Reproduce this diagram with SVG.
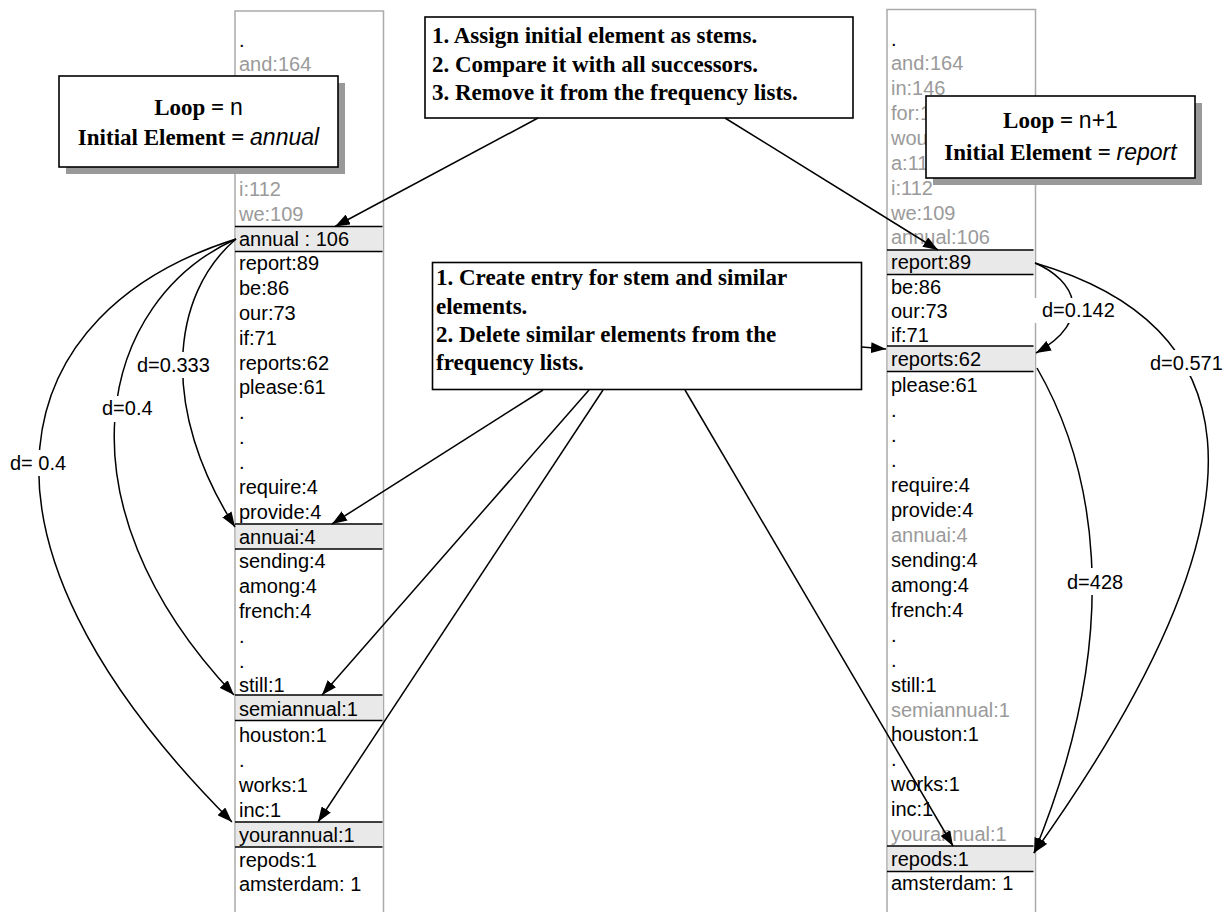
<svg xmlns="http://www.w3.org/2000/svg" width="1227" height="912" viewBox="0 0 1227 912">
<defs>
<marker id="ah" markerUnits="userSpaceOnUse" markerWidth="15" markerHeight="11" refX="15" refY="5.5" orient="auto">
<path d="M0,0 L15,5.5 L0,11 z" fill="#000"/>
</marker>
<style>
.col{fill:#fff;stroke:#aaa;stroke-width:1.5}
.t{font-family:"Liberation Sans",Arial,sans-serif;font-size:20px;fill:#000}
.g{fill:#9a9a9a}
.band{fill:#e9e9e9;stroke:none}
.bl{stroke:#000;stroke-width:1.6}
.box{fill:#fff;stroke:#000;stroke-width:1.6}
.sh{fill:#999;stroke:none}
.bt{font-family:"Liberation Serif","Times New Roman",serif;font-weight:bold;font-size:23px;fill:#000}
.ar{font-family:"Liberation Sans",Arial,sans-serif;font-weight:normal}
.c{fill:none;stroke:#000;stroke-width:1.5;marker-end:url(#ah)}
.lb{font-family:"Liberation Sans",Arial,sans-serif;font-size:20px;fill:#000}
</style>
</defs>
<rect width="1227" height="912" fill="#fff"/>

<g id="col-left">
<rect class="col" x="235" y="11" width="148.5" height="910"/>
<rect class="band" x="235.8" y="226.5" width="147" height="25"/>
<rect class="band" x="235.8" y="524" width="147" height="25"/>
<rect class="band" x="235.8" y="695" width="147" height="25.5"/>
<rect class="band" x="235.8" y="822" width="147" height="25"/>
<g class="bl">
<line x1="235" y1="226.5" x2="382.5" y2="226.5"/><line x1="235" y1="251.5" x2="382.5" y2="251.5"/>
<line x1="235" y1="524" x2="382.5" y2="524"/><line x1="235" y1="549" x2="382.5" y2="549"/>
<line x1="235" y1="695" x2="382.5" y2="695"/><line x1="235" y1="720.5" x2="382.5" y2="720.5"/>
<line x1="235" y1="822" x2="382.5" y2="822"/><line x1="235" y1="847" x2="382.5" y2="847"/>
</g>
<g class="t">
<text x="239" y="46.5">.</text>
<text x="239" y="71.4" class="g">and:164</text>
<text x="239" y="195.6" class="g">i:112</text>
<text x="239" y="220.5" class="g">we:109</text>
<text x="239" y="246">annual : 106</text>
<text x="239" y="270.2">report:89</text>
<text x="239" y="295">be:86</text>
<text x="239" y="319.9">our:73</text>
<text x="239" y="344.7">if:71</text>
<text x="239" y="369.6">reports:62</text>
<text x="239" y="394.4">please:61</text>
<text x="239" y="419.3">.</text>
<text x="239" y="444.1">.</text>
<text x="239" y="469">.</text>
<text x="239" y="493.8">require:4</text>
<text x="239" y="518.7">provide:4</text>
<text x="239" y="544">annuai:4</text>
<text x="239" y="568.4">sending:4</text>
<text x="239" y="593.2">among:4</text>
<text x="239" y="618.1">french:4</text>
<text x="239" y="642.9">.</text>
<text x="239" y="667.8">.</text>
<text x="239" y="692">still:1</text>
<text x="239" y="715.5">semiannual:1</text>
<text x="239" y="742.3">houston:1</text>
<text x="239" y="767.2">.</text>
<text x="239" y="792">works:1</text>
<text x="239" y="816.9">inc:1</text>
<text x="239" y="842">yourannual:1</text>
<text x="239" y="866.6">repods:1</text>
<text x="239" y="891">amsterdam: 1</text>
</g>
</g>

<g id="col-right">
<rect class="col" x="887" y="9.5" width="148.5" height="910"/>
<rect class="band" x="887.8" y="250" width="147" height="24.5"/>
<rect class="band" x="887.8" y="346" width="147" height="25.5"/>
<rect class="band" x="887.8" y="846" width="147" height="25.5"/>
<g class="bl">
<line x1="887" y1="250" x2="1033.5" y2="250"/><line x1="887" y1="274.5" x2="1033.5" y2="274.5"/>
<line x1="887" y1="346" x2="1033.5" y2="346"/><line x1="887" y1="371.5" x2="1033.5" y2="371.5"/>
<line x1="887" y1="846" x2="1033.5" y2="846"/><line x1="887" y1="871.5" x2="1033.5" y2="871.5"/>
</g>
<g class="t">
<text x="891" y="45.5">.</text>
<text x="891" y="70.4" class="g">and:164</text>
<text x="891" y="95.2" class="g">in:146</text>
<text x="891" y="120" class="g">for:1</text>
<text x="891" y="144.9" class="g">wou</text>
<text x="891" y="169.8" class="g">a:11</text>
<text x="891" y="194.6" class="g">i:112</text>
<text x="891" y="219.5" class="g">we:109</text>
<text x="891" y="244.3" class="g">annual:106</text>
<text x="891" y="269">report:89</text>
<text x="891" y="293.5">be:86</text>
<text x="891" y="317.9">our:73</text>
<text x="891" y="342">if:71</text>
<text x="891" y="366">reports:62</text>
<text x="891" y="392">please:61</text>
<text x="891" y="417.3">.</text>
<text x="891" y="442.3">.</text>
<text x="891" y="467.3">.</text>
<text x="891" y="492.3">require:4</text>
<text x="891" y="517.2">provide:4</text>
<text x="891" y="542.2" class="g">annuai:4</text>
<text x="891" y="567.2">sending:4</text>
<text x="891" y="592">among:4</text>
<text x="891" y="617">french:4</text>
<text x="891" y="641.9">.</text>
<text x="891" y="666.8">.</text>
<text x="891" y="691.6">still:1</text>
<text x="891" y="716.5" class="g">semiannual:1</text>
<text x="891" y="741.3">houston:1</text>
<text x="891" y="766.2">.</text>
<text x="891" y="791">works:1</text>
<text x="891" y="815.9">inc:1</text>
<text x="891" y="840.7" class="g">yourannual:1</text>
<text x="891" y="866">repods:1</text>
<text x="891" y="890.4">amsterdam: 1</text>
</g>
</g>

<g id="box-loop-n">
<rect class="sh" x="66" y="83" width="279" height="91"/>
<rect class="box" x="59" y="76" width="279" height="91"/>
<text class="bt" x="198.5" y="115" text-anchor="middle">Loop = <tspan class="ar">n</tspan></text>
<text class="bt" x="198.5" y="145" text-anchor="middle">Initial Element = <tspan class="ar" font-style="italic">annual</tspan></text>
</g>

<g id="box-loop-n1">
<rect class="sh" x="933" y="103" width="269" height="82"/>
<rect class="box" x="926" y="96" width="269" height="82"/>
<text class="bt" x="1060.5" y="128" text-anchor="middle">Loop = <tspan class="ar">n+1</tspan></text>
<text class="bt" x="1060.5" y="160" text-anchor="middle">Initial Element = <tspan class="ar" font-style="italic">report</tspan></text>
</g>

<g id="box-steps-1">
<rect class="box" x="425" y="17" width="428" height="101"/>
<text class="bt" x="432" y="43">1. Assign initial element as stems.</text>
<text class="bt" x="432" y="71.5">2. Compare it with all successors.</text>
<text class="bt" x="432" y="100">3. Remove it from the frequency lists.</text>
</g>

<g id="box-steps-2">
<rect class="box" x="432.5" y="262.5" width="429" height="127"/>
<text class="bt" x="436" y="285">1. Create entry for stem and similar</text>
<text class="bt" x="436" y="313.5">elements.</text>
<text class="bt" x="436" y="342">2. Delete similar elements from the</text>
<text class="bt" x="436" y="370">frequency lists.</text>
</g>

<g id="connectors">
<path class="c" d="M538,118 L335,226.5"/>
<path class="c" d="M725,118 L938,250"/>
<path class="c" d="M862,347 L886,349"/>
<path class="c" d="M543,390 L332,524"/>
<path class="c" d="M589,390 L322,695"/>
<path class="c" d="M603,390 L318,822"/>
<path class="c" d="M685,390 L953,846"/>
<path class="c" d="M236,239 C170,295 160,410 235,527"/>
<path class="c" d="M236,239 C100,300 50,500 234,695"/>
<path class="c" d="M236,239 C10,310 -60,530 232,822"/>
<path class="c" d="M1035,263 C1075,280 1095,320 1036,353"/>
<path class="c" d="M1035,263 C1230,320 1300,480 1034,853"/>
<path class="c" d="M1037,368 C1090,460 1130,620 1034,853"/>
</g>

<g id="labels">
<rect x="134" y="352" width="77" height="26" fill="#fff"/>
<text class="lb" x="137" y="372">d=0.333</text>
<rect x="99" y="396" width="56" height="26" fill="#fff"/>
<text class="lb" x="102" y="415">d=0.4</text>
<rect x="7" y="450" width="62" height="26" fill="#fff"/>
<text class="lb" x="10" y="470">d= 0.4</text>
<rect x="1030" y="298" width="86" height="25" fill="#fff"/>
<text class="lb" x="1042" y="317">d=0.142</text>
<rect x="1147" y="350" width="76" height="26" fill="#fff"/>
<text class="lb" x="1150" y="370">d=0.571</text>
<rect x="1064" y="568" width="61" height="27" fill="#fff"/>
<text class="lb" x="1067" y="589">d=428</text>
</g>
</svg>
